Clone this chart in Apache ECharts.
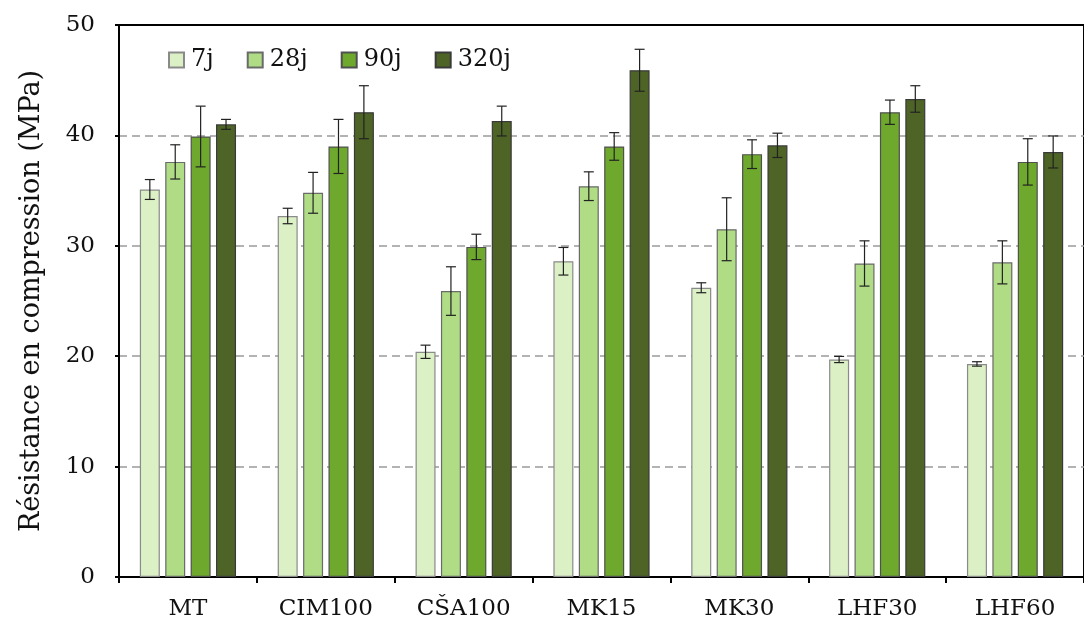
<!DOCTYPE html>
<html>
<head>
<meta charset="utf-8">
<script src="https://cdn.jsdelivr.net/npm/echarts@6/dist/echarts.min.js"></script>
<style>html,body{margin:0;padding:0;background:#fff;}#c{width:1084px;height:623px;}</style>
</head>
<body>
<div id="c"></div>
<script>
var categories = ['MT', 'CIM100', 'CŠA100', 'MK15', 'MK30', 'LHF30', 'LHF60'];
var seriesNames = ['7j', '28j', '90j', '320j'];
var values7j   = [35.1, 32.7, 20.4, 28.6, 26.2, 19.7, 19.3];
var values28j  = [37.6, 34.8, 25.9, 35.4, 31.5, 28.4, 28.5];
var values90j  = [39.9, 39.0, 29.9, 39.0, 38.3, 42.1, 37.6];
var values320j = [41.0, 42.1, 41.3, 45.9, 39.1, 43.3, 38.5];
var err7j   = [0.9, 0.7, 0.6, 1.25, 0.45, 0.28, 0.2];
var err28j  = [1.55, 1.85, 2.2, 1.3, 2.85, 2.05, 1.95];
var err90j  = [2.75, 2.45, 1.15, 1.25, 1.3, 1.1, 2.1];
var err320j = [0.45, 2.4, 1.35, 1.9, 1.1, 1.2, 1.45];
var yTicks = { min: 0, max: 50, interval: 10 };

var allValues = [values7j, values28j, values90j, values320j];
var allErrors = [err7j, err28j, err90j, err320j];
var colors = ['#dcf0c6', '#afdc84', '#6ea92e', '#4e6426'];
var borders = ['#8a8a8a', '#6a6a6a', '#505050', '#3a3a3a'];

var FONT = 'DejaVu Serif';
var TXT = '#111';
var BAR_W = 20, BAR_GAP = 5.4;

var series = [];
allValues.forEach(function (vals, i) {
  series.push({
    name: seriesNames[i],
    type: 'bar',
    data: vals,
    barWidth: BAR_W,
    barGap: (BAR_GAP / BAR_W * 100) + '%',
    itemStyle: { color: colors[i], borderColor: borders[i], borderWidth: 1.2 },
    z: 2
  });
});
allValues.forEach(function (vals, i) {
  var offset = (i - 1.5) * (BAR_W + BAR_GAP);
  series.push({
    type: 'custom',
    name: seriesNames[i] + '_err',
    z: 5,
    silent: true,
    data: vals.map(function (v, k) { return [k, v - allErrors[i][k], v + allErrors[i][k]]; }),
    encode: { x: 0, y: [1, 2] },
    renderItem: function (params, api) {
      var lo = api.coord([api.value(0), api.value(1)]);
      var hi = api.coord([api.value(0), api.value(2)]);
      var x = lo[0] + offset;
      var cap = 5;
      var st = { stroke: '#222', lineWidth: 1.2 };
      return {
        type: 'group',
        children: [
          { type: 'line', shape: { x1: x, y1: lo[1], x2: x, y2: hi[1] }, style: st },
          { type: 'line', shape: { x1: x - cap, y1: lo[1], x2: x + cap, y2: lo[1] }, style: st },
          { type: 'line', shape: { x1: x - cap, y1: hi[1], x2: x + cap, y2: hi[1] }, style: st }
        ]
      };
    }
  });
});

var chart = echarts.init(document.getElementById('c'), null, { renderer: 'canvas' });
chart.setOption({
  animation: false,
  backgroundColor: '#fff',
  grid: { left: 119, right: -10, top: 25, bottom: 46, show: true, borderColor: '#000', borderWidth: 2, backgroundColor: 'transparent' },
  legend: {
    data: seriesNames,
    left: 163, top: 43,
    itemWidth: 15, itemHeight: 15, itemGap: 33,
    icon: 'rect',
    textStyle: { fontFamily: FONT, fontSize: 24, color: TXT, padding: [0, 0, 0, 2] }
  },
  xAxis: {
    type: 'category',
    data: categories,
    axisLine: { lineStyle: { color: '#000', width: 2 } },
    axisTick: { show: true, inside: false, length: 6, lineStyle: { color: '#000', width: 2 } },
    axisLabel: { fontFamily: FONT, fontSize: 23, color: TXT, margin: 21 },
    splitLine: { show: false }
  },
  yAxis: {
    type: 'value',
    min: yTicks.min, max: yTicks.max, interval: yTicks.interval,
    name: 'Résistance en compression (MPa)',
    nameLocation: 'middle',
    nameRotate: 90,
    nameGap: 74,
    nameTextStyle: { fontFamily: FONT, fontSize: 27, color: TXT },
    axisLine: { show: true, lineStyle: { color: '#000', width: 2 } },
    axisTick: { show: true, inside: false, length: 4, lineStyle: { color: '#000', width: 2 } },
    axisLabel: { fontFamily: FONT, fontSize: 23, color: TXT, margin: 24 },
    splitLine: { show: true, showMinLine: false, showMaxLine: false, lineStyle: { color: '#9a9a9a', width: 1.5, type: [8, 5] } }
  },
  series: series
});
</script>
</body>
</html>
